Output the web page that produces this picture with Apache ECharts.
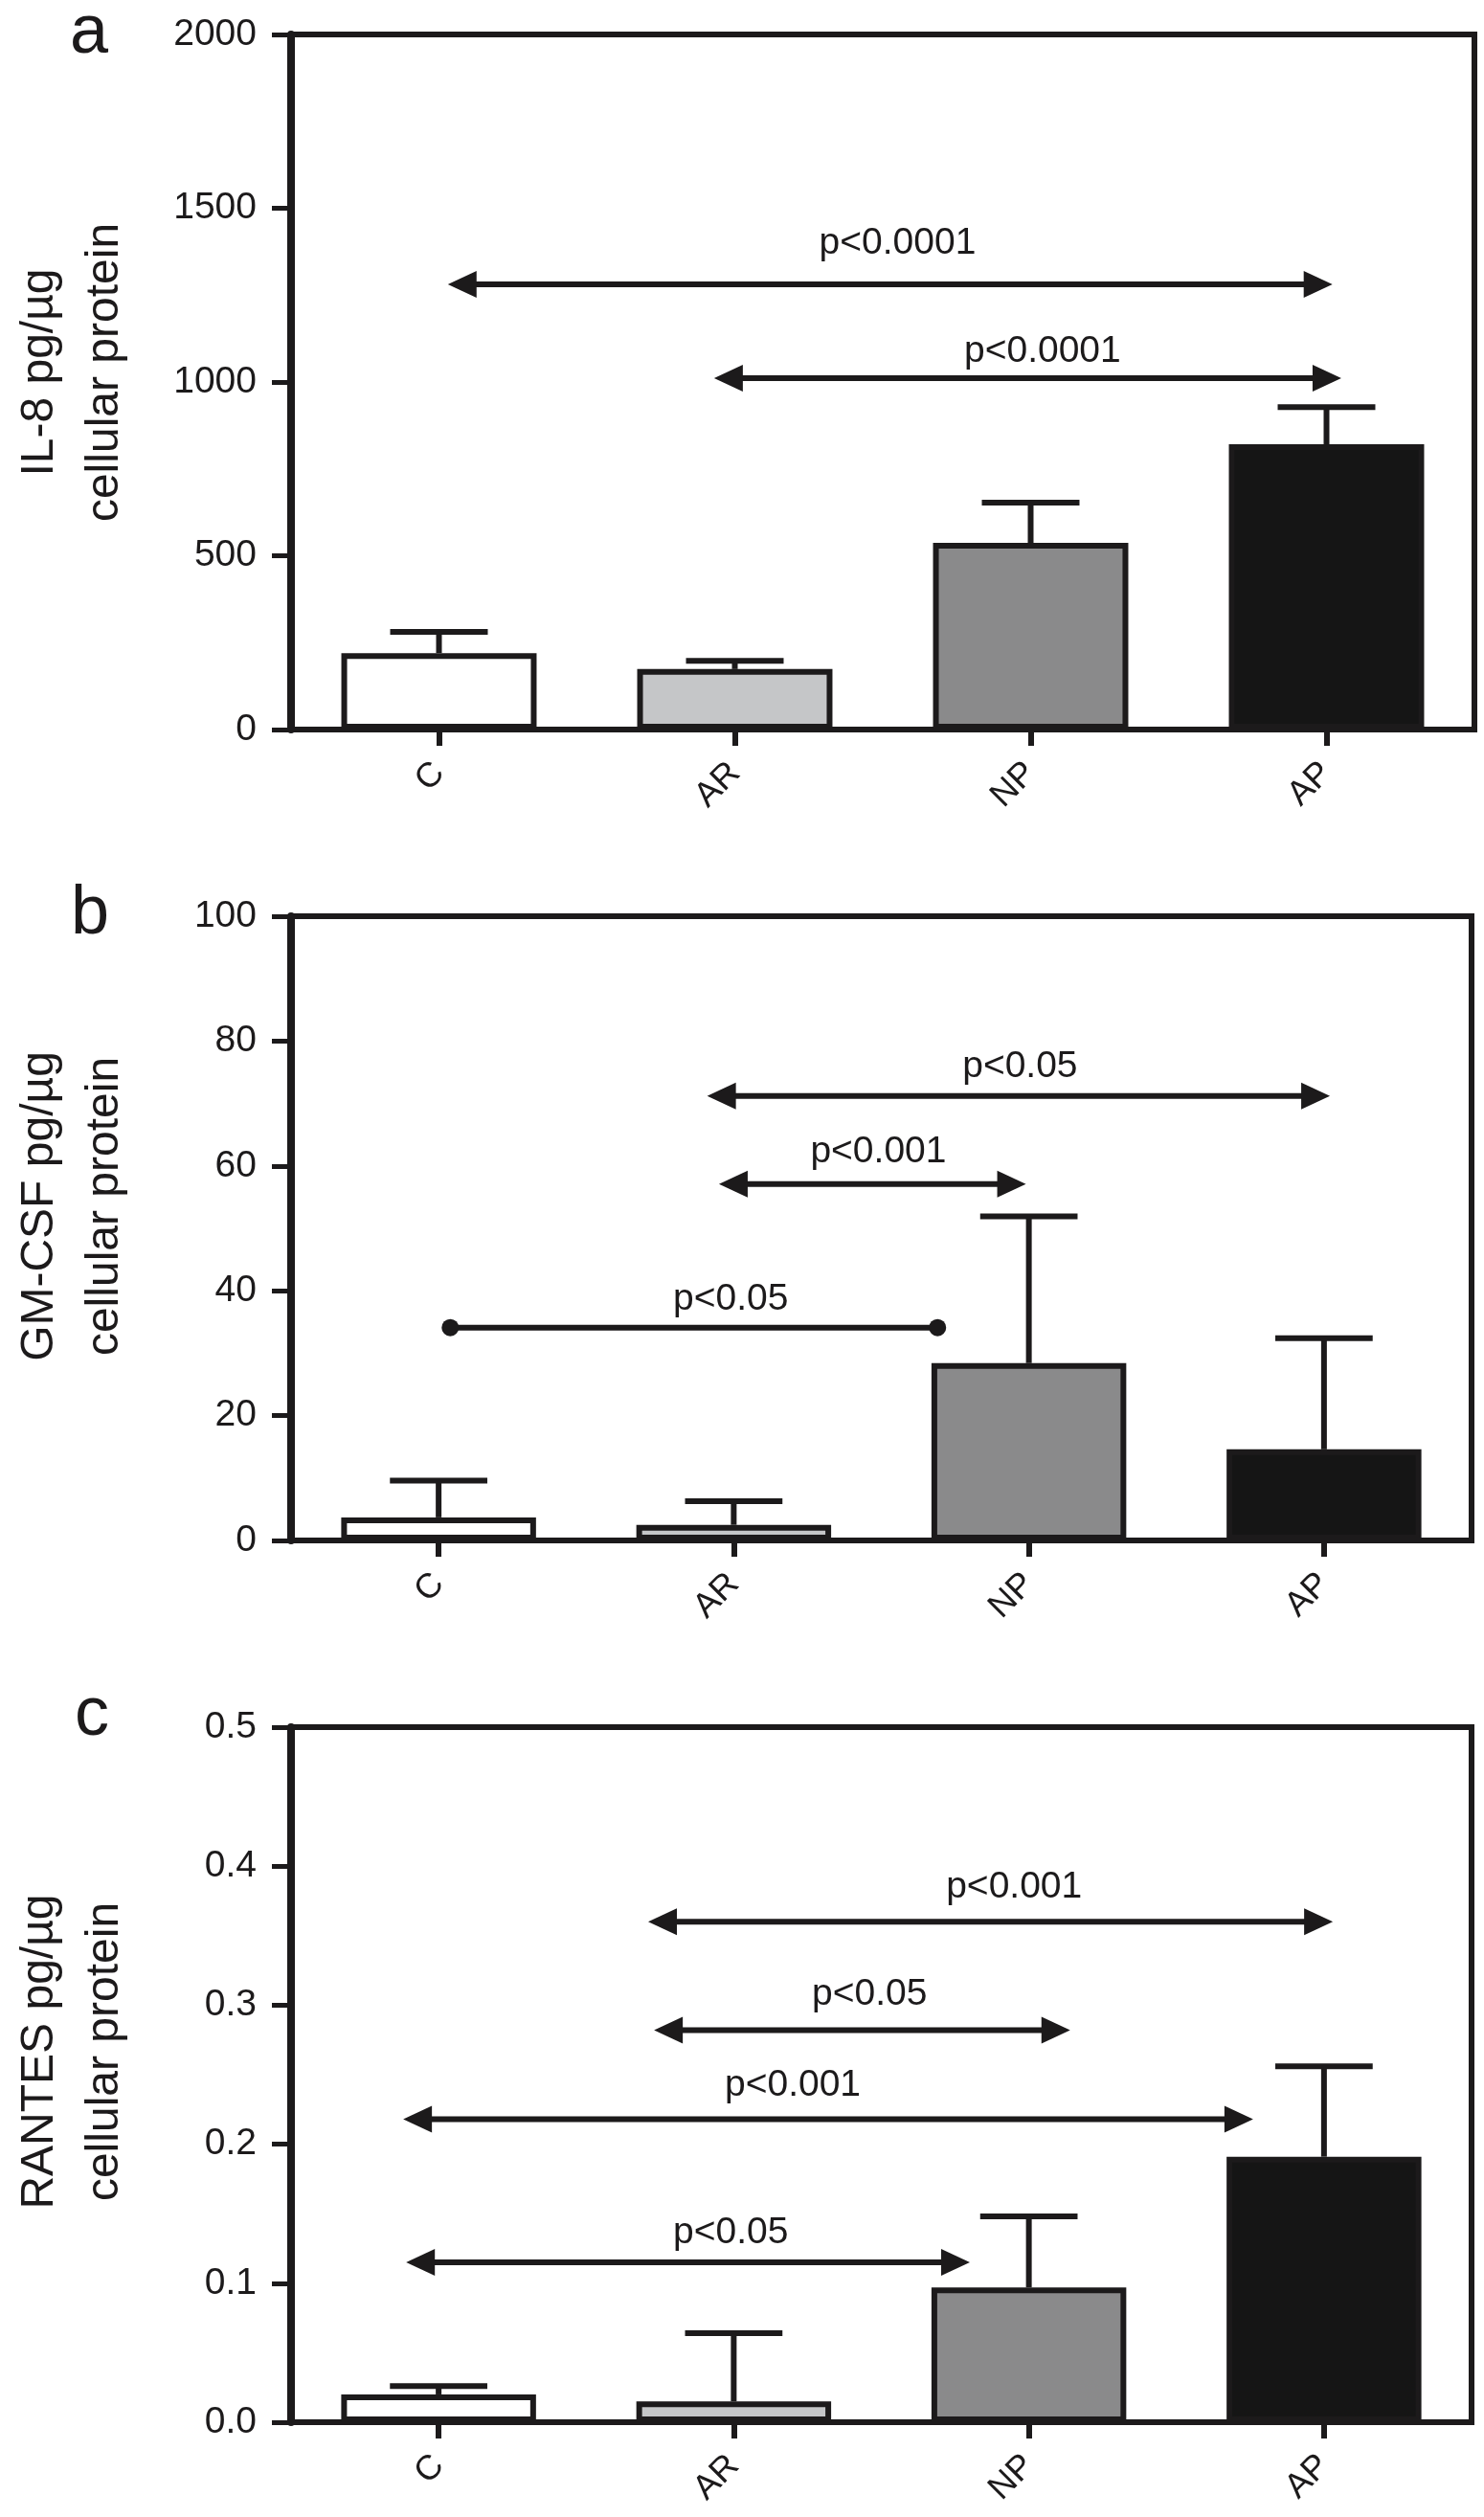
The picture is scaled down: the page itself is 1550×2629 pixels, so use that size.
<!DOCTYPE html>
<html>
<head>
<meta charset="utf-8">
<script src="https://cdn.jsdelivr.net/npm/echarts@6/dist/echarts.min.js"></script>
<style>
  html, body { margin: 0; padding: 0; background: #ffffff; }
  #chart { width: 1550px; height: 2629px; }
</style>
</head>
<body>
<div id="chart"></div>
<script>
// ---------- data ----------
const categories = ['C', 'AR', 'NP', 'AP'];

const il8Mean = [220, 174, 537, 821];
const il8Err = [61, 24, 116, 107];
const gmcsfMean = [3.7, 2.5, 28.4, 14.6];
const gmcsfErr = [5.9, 3.8, 23.5, 17.8];
const rantesMean = [0.020, 0.015, 0.097, 0.191];
const rantesErr = [0.006, 0.049, 0.051, 0.065];

const il8Axis = [0, 2000, 500];     // min, max, interval
const gmcsfAxis = [0, 100, 20];
const rantesAxis = [0, 0.5, 0.1];

const panelLetters = ['a', 'b', 'c'];
const axisTitles = ['IL-8 pg/µg\ncellular protein', 'GM-CSF pg/µg\ncellular protein', 'RANTES pg/µg\ncellular protein'];

// comparisons: [from (category units), to, y value, label x, label y]
const il8Comparisons = [
  [0.03, 3.02, 1281, 1.55, 1400],
  [0.93, 3.05, 1011, 2.04, 1088]
];
const il8PLabels = ['p<0.0001', 'p<0.0001'];
const il8Ends = ['arrow', 'arrow'];

const gmcsfComparisons = [
  [0.91, 3.02, 71.2, 1.97, 75.9],
  [0.95, 1.99, 57.1, 1.49, 62.2],
  [0.02, 1.71, 34.1, 0.99, 38.6]
];
const gmcsfPLabels = ['p<0.05', 'p<0.001', 'p<0.05'];
const gmcsfEnds = ['arrow', 'arrow', 'dot'];

const rantesComparisons = [
  [0.71, 3.03, 0.360, 1.95, 0.385],
  [0.73, 2.14, 0.282, 1.46, 0.308],
  [-0.12, 2.76, 0.218, 1.20, 0.242],
  [-0.11, 1.80, 0.115, 0.99, 0.136]
];
const rantesPLabels = ['p<0.001', 'p<0.05', 'p<0.001', 'p<0.05'];
const rantesEnds = ['arrow', 'arrow', 'arrow', 'arrow'];

// ---------- styling ----------
const INK = '#1c1a1b';
const FONT = '"Liberation Sans", Arial, Helvetica, sans-serif';
const barColors = ['#ffffff', '#c5c6c8', '#8a8a8b', '#151515'];

const grids = [
  { left: 287, right: 10, top: 36, height: 726 },
  { left: 287, right: 13, top: 957, height: 652 },
  { left: 287, right: 13, top: 1804, height: 726 }
];
const titlePad = [20, 46, 48];
const letterPos = [[93, 35], [94, 955], [96, 1792]];

const panels = [
  { mean: il8Mean, err: il8Err, axis: il8Axis, comp: il8Comparisons, labels: il8PLabels, ends: il8Ends, fmt: v => String(v) },
  { mean: gmcsfMean, err: gmcsfErr, axis: gmcsfAxis, comp: gmcsfComparisons, labels: gmcsfPLabels, ends: gmcsfEnds, fmt: v => String(v) },
  { mean: rantesMean, err: rantesErr, axis: rantesAxis, comp: rantesComparisons, labels: rantesPLabels, ends: rantesEnds, fmt: v => v.toFixed(1) }
];

function errorRender(params, api) {
  const x = api.value(0);
  const m = api.value(1);
  const e = api.value(2);
  const base = api.coord([x, m]);
  const top = api.coord([x, m + e]);
  const half = api.size([1, 0])[0] * 0.165;
  return {
    type: 'group',
    children: [
      { type: 'line', shape: { x1: base[0], y1: base[1], x2: top[0], y2: top[1] },
        style: { stroke: INK, lineWidth: 6 } },
      { type: 'line', shape: { x1: top[0] - half, y1: top[1], x2: top[0] + half, y2: top[1] },
        style: { stroke: INK, lineWidth: 6 } }
    ]
  };
}

function makeArrowRender(labels, ends) {
  return function (params, api) {
    const i = params.dataIndex;
    const y = api.value(2);
    const p1 = api.coord([api.value(0), y]);
    const p2 = api.coord([api.value(1), y]);
    const pl = api.coord([api.value(3), api.value(4)]);
    const L = 30, H = 14;
    const kind = ends[i];
    const children = [];
    const inset = kind === 'arrow' ? L * 0.7 : 0;
    children.push({ type: 'line',
      shape: { x1: p1[0] + inset, y1: p1[1], x2: p2[0] - inset, y2: p2[1] },
      style: { stroke: INK, lineWidth: 6 } });
    if (kind === 'arrow') {
      children.push({ type: 'polygon',
        shape: { points: [[p1[0], p1[1]], [p1[0] + L, p1[1] - H], [p1[0] + L, p1[1] + H]] },
        style: { fill: INK } });
      children.push({ type: 'polygon',
        shape: { points: [[p2[0], p2[1]], [p2[0] - L, p2[1] - H], [p2[0] - L, p2[1] + H]] },
        style: { fill: INK } });
    } else {
      children.push({ type: 'circle', shape: { cx: p1[0] + 6, cy: p1[1], r: 9 }, style: { fill: INK } });
      children.push({ type: 'circle', shape: { cx: p2[0] - 6, cy: p2[1], r: 9 }, style: { fill: INK } });
    }
    children.push({ type: 'text', x: pl[0], y: pl[1],
      style: { text: labels[i], fill: INK, font: '39px ' + FONT,
               align: 'center', verticalAlign: 'middle', textAlign: 'center', textVerticalAlign: 'middle' } });
    return { type: 'group', children: children };
  };
}

const option = {
  backgroundColor: '#ffffff',
  animation: false,
  grid: grids.map(g => Object.assign({ show: true, borderColor: INK, borderWidth: 6, backgroundColor: 'transparent' }, g)),
  xAxis: [],
  yAxis: [],
  series: [],
  graphic: panelLetters.map((t, k) => ({
    type: 'text', x: letterPos[k][0], y: letterPos[k][1],
    style: { text: t, fill: INK, font: '72px ' + FONT, align: 'center', verticalAlign: 'middle',
             textAlign: 'center', textVerticalAlign: 'middle' }
  }))
};

panels.forEach((p, k) => {
  option.xAxis.push({
    gridIndex: k, type: 'category', data: categories,
    axisLine: { show: true, onZero: false, lineStyle: { color: INK, width: 6 } },
    axisTick: { show: true, alignWithLabel: true, length: 17, lineStyle: { color: INK, width: 6 } },
    axisLabel: { rotate: 45, margin: 40, fontSize: 36, color: INK, fontFamily: FONT },
    splitLine: { show: false }
  });
  option.yAxis.push({
    gridIndex: k, type: 'value', min: p.axis[0], max: p.axis[1], interval: p.axis[2],
    name: axisTitles[k], nameLocation: 'middle', nameRotate: 90, nameGap: 160,
    nameTextStyle: { fontSize: 48, lineHeight: 68, color: INK, fontFamily: FONT, padding: [0, 0, 0, titlePad[k]] },
    axisLine: { show: true, onZero: false, lineStyle: { color: INK, width: 8 } },
    axisTick: { show: true, length: 20, lineStyle: { color: INK, width: 5 } },
    axisLabel: { fontSize: 39, color: INK, fontFamily: FONT, margin: 36, formatter: p.fmt },
    splitLine: { show: false }
  });
});
// hidden value axes for annotations
panels.forEach((p, k) => {
  option.xAxis.push({ gridIndex: k, type: 'value', min: -0.5, max: 3.5, show: false,
    axisLine: { show: false, onZero: false }, splitLine: { show: false } });
});

panels.forEach((p, k) => {
  option.series.push({
    type: 'bar', xAxisIndex: k, yAxisIndex: k, barWidth: '66%',
    data: p.mean.map((v, i) => ({ value: v, itemStyle: { color: barColors[i] } })),
    itemStyle: { borderColor: INK, borderWidth: 6 },
    z: 2
  });
  option.series.push({
    type: 'custom', xAxisIndex: k, yAxisIndex: k,
    data: p.mean.map((v, i) => [i, v, p.err[i]]),
    encode: { x: 0, y: [1, 2] },
    renderItem: errorRender, clip: false, z: 3
  });
  option.series.push({
    type: 'custom', xAxisIndex: 3 + k, yAxisIndex: k,
    data: p.comp,
    encode: { x: [0, 1, 3], y: [2, 4] },
    renderItem: makeArrowRender(p.labels, p.ends), clip: false, z: 4
  });
});

const chart = echarts.init(document.getElementById('chart'), null, { renderer: 'canvas' });
chart.setOption(option);
</script>
</body>
</html>
